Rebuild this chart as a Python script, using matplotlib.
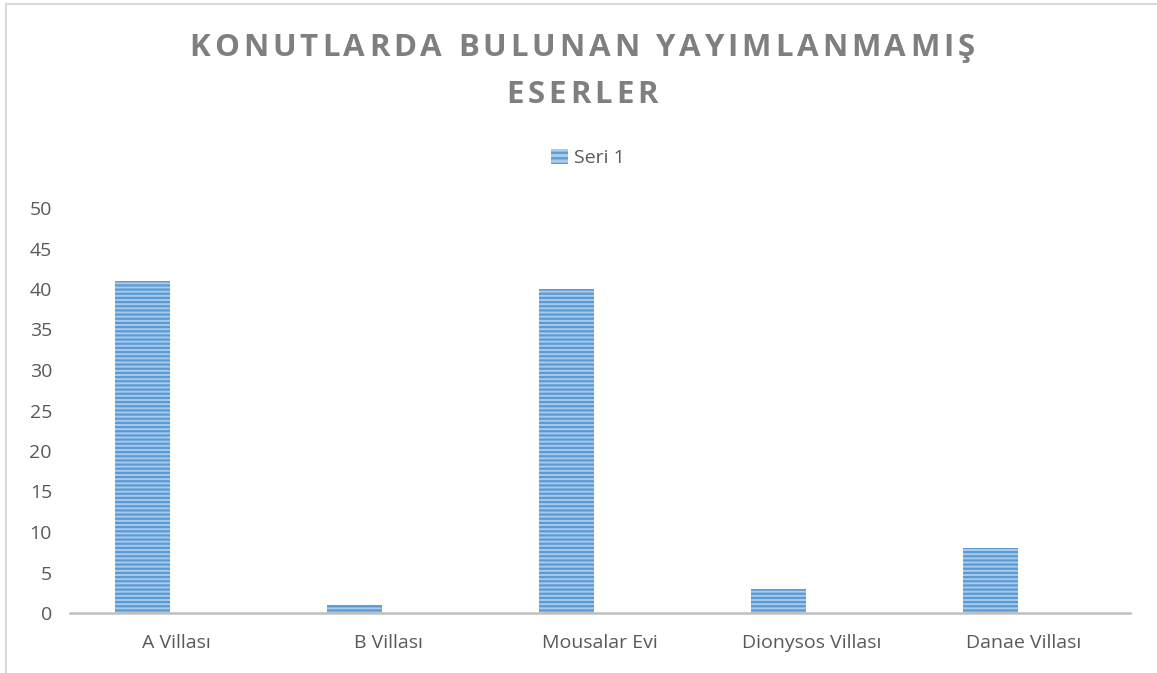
import matplotlib
matplotlib.use("Agg")
import matplotlib.pyplot as plt
from matplotlib.patches import Rectangle, Patch
from matplotlib.font_manager import FontProperties

categories = ["A Villası", "B Villası", "Mousalar Evi", "Dionysos Villası", "Danae Villası"]
values = [41, 1, 40, 3, 8]
series_name = "Seri 1"
title_lines = ["KONUTLARDA BULUNAN YAYIMLANMAMIŞ", "ESERLER"]
yticks = list(range(0, 51, 5))

W, H = 1157, 673
plt.rcParams["font.family"] = ["Open Sans", "DejaVu Sans"]
plt.rcParams["hatch.linewidth"] = 1.6

fig = plt.figure(figsize=(W / 100, H / 100), dpi=100)
fig.patch.set_facecolor("white")

# outer chart frame (left and top edges visible)
fig.patches.append(Rectangle((6 / W, -0.1), 1.2, 1 - 4 / H + 0.1, transform=fig.transFigure,
                             fill=False, edgecolor="#d9d9d9", linewidth=1.5))

ax = fig.add_axes([70 / W, 1 - 613 / H, (1130 - 70) / W, (613 - 208) / H])
x = list(range(len(categories)))
# the series sits in the left part of each category slot
bar_offset = -0.158
ax.bar([i + bar_offset for i in x], values, width=0.26, color="#a9cbeb", edgecolor="#5b9bd5",
       hatch="----", linewidth=0, zorder=2)
ax.set_xlim(-0.5, len(categories) - 0.5)
ax.set_ylim(0, 50)
ax.set_yticks(yticks)
ax.set_xticks(x)
ax.set_xticklabels(categories)
for s in ["top", "right", "left"]:
    ax.spines[s].set_visible(False)
ax.spines["bottom"].set_color("#bfbfbf")
ax.spines["bottom"].set_linewidth(1.8)
ax.tick_params(axis="both", length=0, labelsize=14, colors="#595959")
ax.tick_params(axis="y", pad=13)
ax.tick_params(axis="x", pad=15)
ax.set_facecolor("none")

# legend
fig.legend(handles=[Patch(facecolor="#a9cbeb", edgecolor="#5b9bd5", hatch="---", linewidth=0)],
           labels=[series_name], loc="center", bbox_to_anchor=(588 / W, 1 - 158 / H),
           frameon=False, fontsize=14, handlelength=0.85, handleheight=0.85,
           handletextpad=0.3, labelcolor="#595959")

# letter-spaced title
fig.canvas.draw()
renderer = fig.canvas.get_renderer()
prop = FontProperties(family=["Open Sans", "DejaVu Sans"], weight="bold", size=22.5)


def char_widths(line):
    out = []
    for ch in line:
        if ch == " ":
            w, _, _ = renderer.get_text_width_height_descent("a a", prop, ismath=False)
            w2, _, _ = renderer.get_text_width_height_descent("aa", prop, ismath=False)
            out.append(w - w2)
        else:
            w, _, _ = renderer.get_text_width_height_descent(ch, prop, ismath=False)
            out.append(w)
    return out


first = char_widths(title_lines[0])
spacing = max(0.0, (785 - sum(first)) / (len(title_lines[0]) - 1))
centers_y = [48, 95]
for line, cy in zip(title_lines, centers_y):
    widths = char_widths(line)
    total = sum(widths) + spacing * (len(line) - 1)
    xpos = 582 - total / 2
    for ch, w in zip(line, widths):
        fig.text(xpos / W, 1 - cy / H, ch, fontproperties=prop, color="#7f7f7f",
                 ha="left", va="center")
        xpos += w + spacing

fig.savefig("out.png", dpi=100, facecolor="white")
